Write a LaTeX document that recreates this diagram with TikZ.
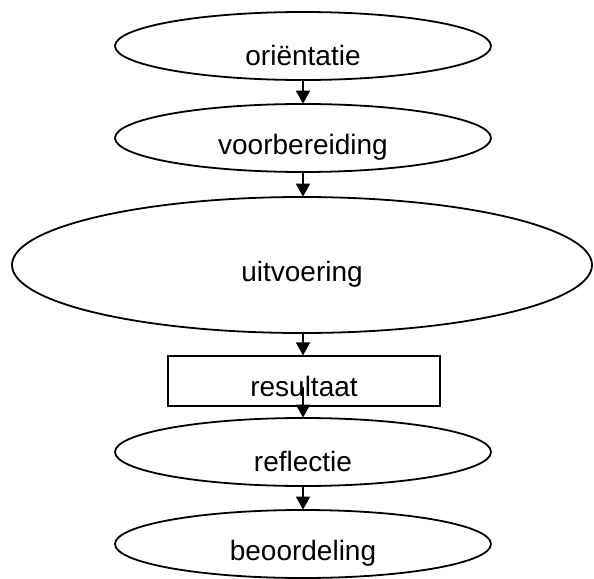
\documentclass[tikz,border=0pt]{standalone}
\usepackage{fontspec}
\setmainfont{Liberation Sans}
\usetikzlibrary{shapes.geometric,arrows.meta,calc}
\begin{document}
\begin{tikzpicture}[x=1pt,y=-1pt,
  every node/.style={font=\fontsize{28}{31}\selectfont, inner sep=0pt},
  txt/.style={label={[yshift=-9pt]center:#1}},
  stage/.style={ellipse, draw, line width=1.8pt, minimum width=376pt, minimum height=68pt, txt=#1},
  bigstage/.style={ellipse, draw, line width=1.8pt, minimum width=580pt, minimum height=136pt, txt=#1},
  resbox/.style={rectangle, draw, line width=2.2pt, minimum width=272pt, minimum height=50pt, label={[yshift=-5pt]center:#1}},
  flow/.style={line width=1.8pt, -{Triangle[length=13pt,width=14pt]}, shorten >=-0.5pt}
]
\useasboundingbox (0,0) rectangle (594,578);
\node[stage=oriëntatie] (e1) at (303,46) {};
\node[stage=voorbereiding] (e2) at (303,138) {};
\node[bigstage=uitvoering] (e3) at (302,265) {};
\node[resbox=resultaat] (res) at (304,381) {};
\node[stage=reflectie] (e4) at (303,452) {};
\node[stage=beoordeling] (e5) at (303,544) {};
\draw[flow] (e1) -- (e2);
\draw[flow] (e2) -- (e3.north -| e2.south);
\draw[flow] (e3.south -| e2.south) -- (res.north -| e2.south);
\draw[flow] ($(res.center -| e2.south)+(0,6)$) -- (e4.north -| e2.south);
\draw[flow] (e4) -- (e5);
\end{tikzpicture}
\end{document}
